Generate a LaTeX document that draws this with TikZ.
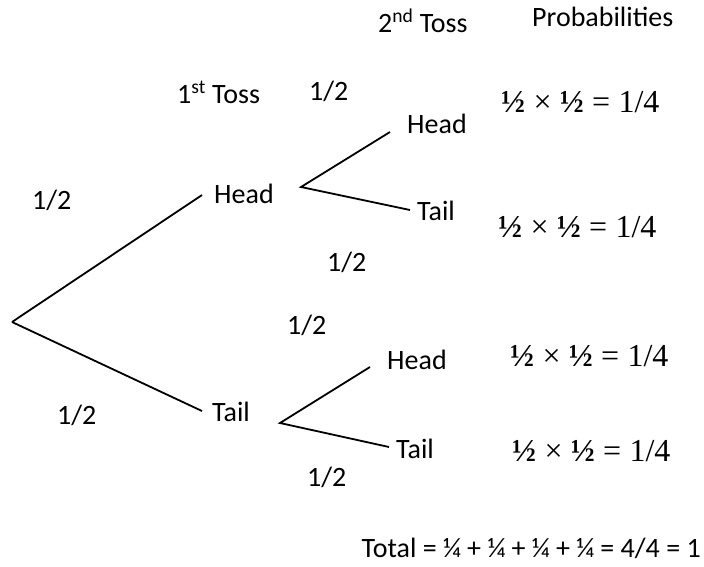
\documentclass[tikz,border=0pt]{standalone}
\usepackage{fontspec}
\setmainfont{Carlito}
\newfontfamily\probfont{Liberation Serif}
\newcommand{\probsp}{\hspace{0.26em}}
\newcommand{\halfglyph}{{\bfseries ½}}
\newcommand{\probrow}{\halfglyph\probsp×\probsp\halfglyph\probsp=\probsp1/4}
\begin{document}
\begin{tikzpicture}[x=1pt,y=-1pt,
  lbl/.style={anchor=base west,inner sep=0pt,font=\fontsize{28}{32}\selectfont},
  prob/.style={anchor=base west,inner sep=0pt,font=\probfont\fontsize{32}{36}\selectfont},
  branch/.style={line width=1.8pt}]
\useasboundingbox (0,0) rectangle (704,566);
% headers
\node[lbl] (toss2) at (378,32) {2\textsuperscript{nd} Toss};
\node[lbl] (probs) at (532,26) {Probabilities};
\node[lbl] (toss1) at (177,103) {1\textsuperscript{st} Toss};
% tree points
\coordinate (root) at (12,322);
\coordinate (h1e) at (202,195);
\coordinate (t1e) at (202,411);
\coordinate (bh) at (301,187);
\coordinate (bt) at (280,423);
\coordinate (h2e) at (390,132);
\coordinate (t2e) at (410,210);
\coordinate (h3e) at (370,367);
\coordinate (t3e) at (389,447);
% outcome labels
\node[lbl] (H1) at (214,203) {Head};
\node[lbl] (T1) at (212,421) {Tail};
\node[lbl] (H2) at (407,133) {Head};
\node[lbl] (T2) at (417,220) {Tail};
\node[lbl] (H3) at (387,369) {Head};
\node[lbl] (T3) at (396,458) {Tail};
% branches
\draw[branch] (root) -- (h1e);
\draw[branch] (root) -- (t1e);
\draw[branch] (h2e) -- (bh) -- (t2e);
\draw[branch] (h3e) -- (bt) -- (t3e);
% probabilities on branches
\node[lbl] (p1) at (32,209) {1/2};
\node[lbl] (p2) at (57,424) {1/2};
\node[lbl] (p3) at (309,100) {1/2};
\node[lbl] (p4) at (327,271) {1/2};
\node[lbl] (p5) at (287,334) {1/2};
\node[lbl] (p6) at (307,486) {1/2};
% results
\node[prob] (r1) at (501,112) {\probrow};
\node[prob] (r2) at (498,237) {\probrow};
\node[prob] (r3) at (510,366) {\probrow};
\node[prob] (r4) at (512,461) {\probrow};
\node[lbl,anchor=base east] (total) at (701,557) {Total = ¼ + ¼ + ¼ + ¼ = 4/4 = 1};
\end{tikzpicture}
\end{document}
